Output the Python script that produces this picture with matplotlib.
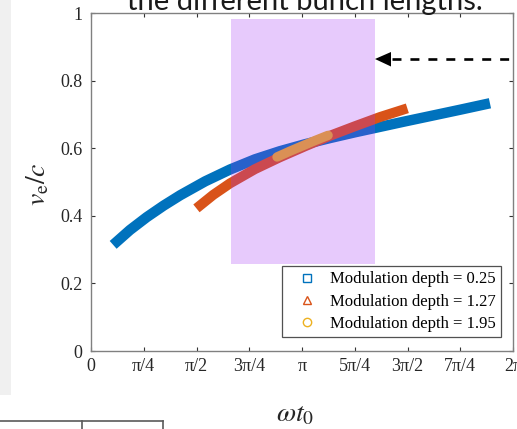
import numpy as np
import matplotlib
matplotlib.use("Agg")
import matplotlib.pyplot as plt
from matplotlib.lines import Line2D
from matplotlib.patches import Rectangle, Polygon

# Electron velocity vs. injection phase for three modulation depths
blue_phase = [0.33, 0.58, 0.83, 1.08, 1.33, 1.70, 2.07, 2.44, 2.81, 3.19,
              3.56, 3.93, 4.30, 4.67, 5.05, 5.50, 5.94]
blue_v = [0.314, 0.358, 0.396, 0.430, 0.461, 0.502, 0.537, 0.567, 0.591,
          0.612, 0.630, 0.647, 0.663, 0.679, 0.695, 0.714, 0.733]

red_phase = [1.57, 1.82, 2.07, 2.44, 2.81, 3.19, 3.56, 3.93, 4.30, 4.71]
red_v = [0.422, 0.462, 0.496, 0.538, 0.573, 0.606, 0.637, 0.665, 0.692, 0.718]

yellow_phase = [2.77, 2.96, 3.15, 3.34, 3.53]
yellow_v = [0.574, 0.591, 0.607, 0.623, 0.638]

labels = ["Modulation depth = 0.25", "Modulation depth = 1.27",
          "Modulation depth = 1.95"]
colors = ["#0072BD", "#D95319", "#EDB120"]
markers = ["s", "^", "o"]

xtick_vals = [0, np.pi / 4, np.pi / 2, 3 * np.pi / 4, np.pi, 5 * np.pi / 4,
              3 * np.pi / 2, 7 * np.pi / 4, 2 * np.pi]
xtick_labels = ["0", "π/4", "π/2", "3π/4", "π", "5π/4", "3π/2", "7π/4", "2π"]
ytick_vals = [0, 0.2, 0.4, 0.6, 0.8, 1]
ytick_labels = ["0", "0.2", "0.4", "0.6", "0.8", "1"]

# highlighted phase window
window_x = (2.084, 4.229)
window_y = (0.257, 0.982)

W, H = 517, 429
fig = plt.figure(figsize=(W / 100, H / 100), dpi=100)
fig.patch.set_facecolor("white")


def fx(px):
    return px / W


def fy(py):
    return 1 - py / H


# slide background strip and table edge
fig.add_artist(Rectangle((0, fy(395)), fx(11), 395 / H, transform=fig.transFigure,
                         facecolor="#f0f0f0", edgecolor="none", zorder=0))
for seg in [((0, 163), (421, 421)), ((82, 82), (421, 430)), ((163, 163), (421, 430))]:
    fig.add_artist(Line2D([fx(seg[0][0]), fx(seg[0][1])],
                          [fy(seg[1][0]), fy(seg[1][1])],
                          transform=fig.transFigure, color="#5a5a5a", lw=1.2))

serif = ["Liberation Serif", "DejaVu Serif"]
plt.rcParams["mathtext.fontset"] = "stix"

ax = fig.add_axes([fx(91), fy(351), 422 / W, 338 / H])
ax.set_xlim(0, 2 * np.pi)
ax.set_ylim(0, 1)

ax.plot(blue_phase, blue_v, color=colors[0], lw=7.5, solid_capstyle="butt",
        solid_joinstyle="round", zorder=2)
ax.plot(red_phase, red_v, color=colors[1], lw=7.2, solid_capstyle="butt",
        solid_joinstyle="round", zorder=2.1)
ax.plot(yellow_phase, yellow_v, color=colors[2], lw=6.8, solid_capstyle="round",
        zorder=2.2)

ax.add_patch(Rectangle((window_x[0], window_y[0]), window_x[1] - window_x[0],
                       window_y[1] - window_y[0], facecolor=(163 / 255, 47 / 255, 247 / 255),
                       alpha=0.25, edgecolor="none", zorder=3))

ax.set_xticks(xtick_vals)
ax.set_xticklabels(xtick_labels, family=serif, fontsize=13)
ax.set_yticks(ytick_vals)
ax.set_yticklabels(ytick_labels, family=serif, fontsize=13)
ax.tick_params(direction="in", length=3, width=0.8, color="#333333",
               labelcolor="#262626", top=True, right=True)
ax.tick_params(axis="x", pad=5)
ax.tick_params(axis="y", pad=6)
for sp in ax.spines.values():
    sp.set_color("#808080")
    sp.set_linewidth(1.0)

ax.set_xlabel(r"$\omega t_0$", fontsize=20, color="#262626")
ax.xaxis.set_label_coords((295 - 91) / 422, (351 - 413) / 338)
ax.xaxis.label.set_va("center")
ax.set_ylabel(r"$v_{\mathrm{e}}/c$", fontsize=20, color="#262626")
ax.yaxis.set_label_coords((37 - 91) / 422, (351 - 184) / 338)
ax.yaxis.label.set_va("center")

handles = [Line2D([], [], linestyle="none", marker=m, markersize=6,
                  markerfacecolor="none", markeredgecolor=c, markeredgewidth=1.0)
           for m, c in zip(markers, colors)]
leg = ax.legend(handles, labels, loc="lower right",
                bbox_to_anchor=((501 - 91) / 422, (351 - 337) / 338),
                prop={"family": serif, "size": 12}, frameon=True, fancybox=False,
                borderpad=0.3, labelspacing=0.38, handlelength=2.4, handletextpad=0.2,
                borderaxespad=0)
leg.get_frame().set_edgecolor("#262626")
leg.get_frame().set_linewidth(0.9)
leg.set_zorder(5)

# caption fragment above the plot
fig.text(fx(127), fy(10), "the different bunch lengths.", family=["Lato", "DejaVu Sans"],
         fontsize=21, color="#1a1a1a", ha="left", va="baseline")

# dashed pointer towards the highlighted window
fig.add_artist(Line2D([fx(392), fx(520)], [fy(59), fy(59)], transform=fig.transFigure,
                      color="black", lw=1.9, linestyle=(0, (3.4, 3.4)), zorder=6))
fig.add_artist(Polygon([[fx(375), fy(59)], [fx(391), fy(52)], [fx(391), fy(66.5)]],
                       closed=True, transform=fig.transFigure, facecolor="black",
                       edgecolor="none", zorder=6))

fig.savefig("out.png", dpi=100)
